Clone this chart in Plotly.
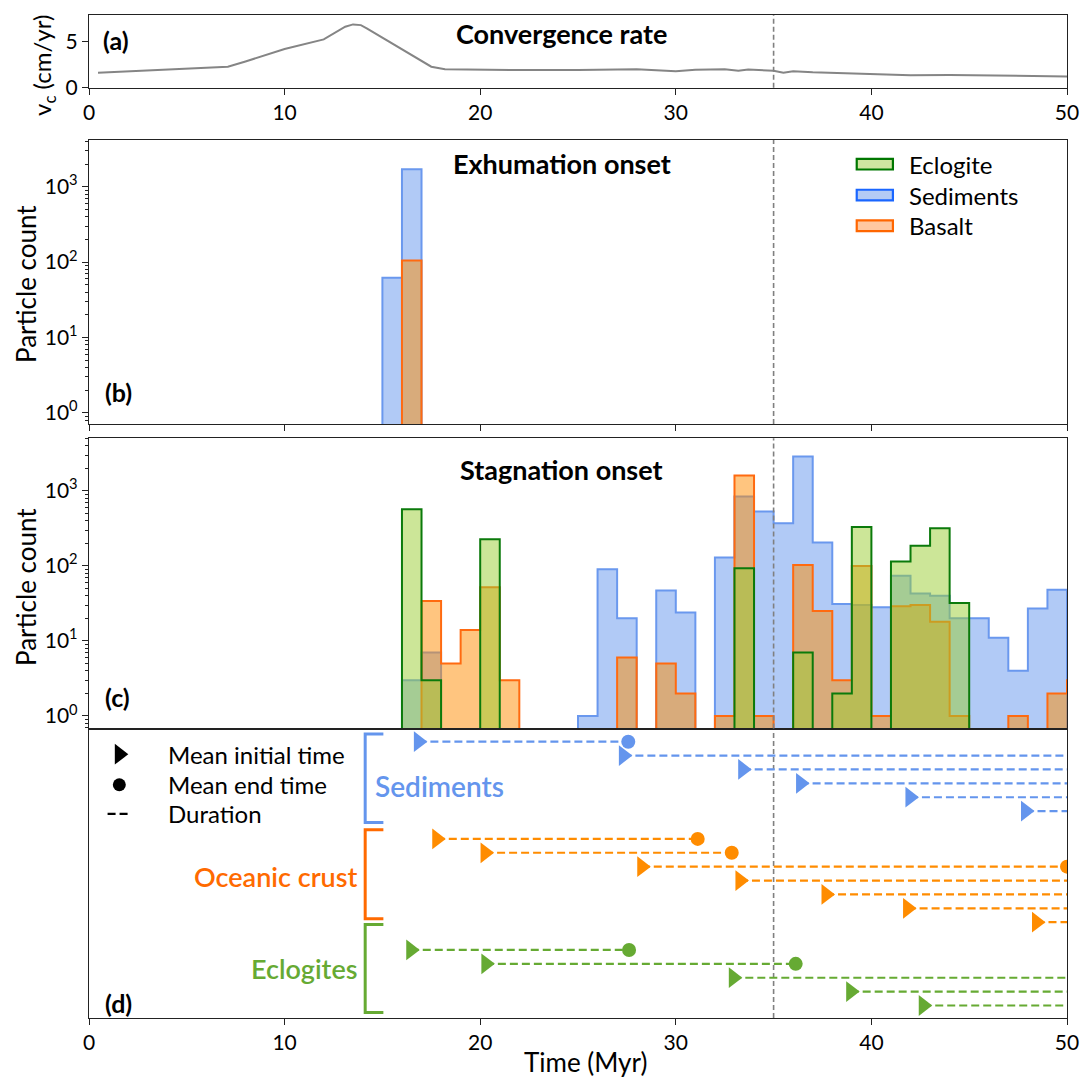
import plotly.graph_objects as go

FONT = "Lato"
X_MAX = 50
REF_TIME = 35

# ---------------- Panel (a): convergence rate ----------------
conv_time = [0.46, 2.0, 4.0, 6.0, 7.1, 8.0, 10.0, 12.0, 13.1, 13.5, 13.9, 14.2, 15.35, 16.4, 17.5,
             18.2, 20.0, 22.0, 25.0, 26.5, 28.0, 30.0, 31.0, 32.5, 33.2, 33.7, 34.5, 35.0, 35.5,
             36.0, 37.0, 38.0, 40.0, 42.0, 44.0, 46.0, 48.0, 50.0]
conv_rate = [1.63, 1.8, 1.98, 2.17, 2.28, 2.85, 4.2, 5.25, 6.63, 6.88, 6.8, 6.45, 5.0, 3.6, 2.28,
             2.0, 1.93, 1.92, 1.92, 2.0, 2.0, 1.8, 1.95, 2.0, 1.85, 1.97, 1.85, 1.85, 1.63,
             1.8, 1.67, 1.6, 1.49, 1.34, 1.38, 1.34, 1.33, 1.23]

# ---------------- Panels (b),(c): 1-Myr histogram bins (left edges) ----------------
bin_left = list(range(15, 51))
BIN_W = 1.0

exh_sediments = [62, 1700, 0, 0, 0, 0, 0, 0, 0, 0, 0, 0, 0, 0, 0, 0, 0, 0,
                 0, 0, 0, 0, 0, 0, 0, 0, 0, 0, 0, 0, 0, 0, 0, 0, 0, 0]
exh_basalt = [0, 105, 0, 0, 0, 0, 0, 0, 0, 0, 0, 0, 0, 0, 0, 0, 0, 0,
              0, 0, 0, 0, 0, 0, 0, 0, 0, 0, 0, 0, 0, 0, 0, 0, 0, 0]

stg_sediments = [0, 3, 7, 0, 0, 0, 0, 0, 0, 0, 1, 90, 20, 0, 47, 24, 0, 129,
                 840, 530, 370, 2860, 205, 31, 30, 28, 74, 43, 40, 20, 20, 11, 4, 27, 48, 0]
stg_basalt = [0, 0, 34, 5, 14, 52, 3, 0, 0, 0, 0, 0, 6, 0, 5, 2, 0, 1,
              1600, 1, 0, 103, 25, 3, 100, 1, 29, 30, 18, 1, 0, 0, 1, 0, 2, 3]
stg_eclogite = [0, 570, 3, 0, 0, 227, 0, 0, 0, 0, 0, 0, 0, 0, 0, 0, 0, 0,
                93, 0, 0, 7, 0, 2, 330, 0, 114, 185, 318, 32, 0, 0, 0, 0, 0, 0]

# ---------------- Panel (d): mean initial / end times ----------------
sed_start = [16.84, 27.32, 33.42, 36.38, 41.97, 47.88]
sed_end = [27.57, None, None, None, None, None]
oc_start = [17.78, 20.25, 28.26, 33.28, 37.68, 41.85, 48.44]
oc_end = [31.12, 32.86, 50.0, None, None, None, None]
ecl_start = [16.45, 20.29, 32.94, 38.94, 42.65]
ecl_end = [27.61, 36.13, None, None, None]

tick_x = [0, 10, 20, 30, 40, 50]
log_tickvals = [1, 10, 100, 1000]
log_ticktext = ["10<sup>0</sup>", "10<sup>1</sup>", "10<sup>2</sup>", "10<sup>3</sup>"]
minor_vals = [m * 10 ** k for k in range(-1, 4) for m in range(2, 10)]

# ---------------- styles ----------------
SED_FILL, SED_LINE = "rgba(100,149,237,0.5)", "#6a98ee"
BAS_FILL, BAS_LINE = "rgba(255,140,0,0.5)", "#ff6a10"
ECL_FILL, ECL_LINE = "rgba(154,205,50,0.5)", "#0b7a0b"
D_SED, D_OC, D_ECL = "#6495ed", "#ff8c00", "#66aa33"
OC_LABEL = "#ff6a00"
AX_COL = "#222222"

W, H = 1088, 1077
ML, MR, MT, MB = 89, 21, 15, 59
PW = W - ML - MR
PH = H - MT - MB


def dom(ptop, pbot):
    return [max(0.0, 1 - (pbot - MT) / PH), min(1.0, 1 - (ptop - MT) / PH)]


def px_x(p):
    return (p - ML) / PW


def px_y(p):
    return 1 - (p - MT) / PH


fig = go.Figure()

# (a)
fig.add_trace(go.Scatter(x=conv_time, y=conv_rate, mode="lines",
                         line=dict(color="#858585", width=2),
                         xaxis="x", yaxis="y", showlegend=False, hoverinfo="skip"))


def step_poly(lefts, counts, floor=1e-3):
    xs, ys = [lefts[0]], [floor]
    for l, c in zip(lefts, counts):
        v = c if c > 0 else floor
        xs += [l, l + BIN_W]
        ys += [v, v]
    xs.append(lefts[-1] + BIN_W)
    ys.append(floor)
    return xs, ys


def add_hist(counts, fill, line, xa, ya):
    if max(counts) <= 0:
        return
    xs, ys = step_poly(bin_left, counts)
    fig.add_trace(go.Scatter(x=xs, y=ys, mode="lines", fill="toself", fillcolor=fill,
                             line=dict(color=line, width=2), xaxis=xa, yaxis=ya,
                             showlegend=False, hoverinfo="skip"))


# (b)
add_hist(exh_sediments, SED_FILL, SED_LINE, "x2", "y2")
add_hist(exh_basalt, BAS_FILL, BAS_LINE, "x2", "y2")
# (c)
add_hist(stg_sediments, SED_FILL, SED_LINE, "x3", "y3")
add_hist(stg_basalt, BAS_FILL, BAS_LINE, "x3", "y3")
add_hist(stg_eclogite, ECL_FILL, ECL_LINE, "x3", "y3")

# (d)
groups = [(sed_start, sed_end, D_SED), (oc_start, oc_end, D_OC), (ecl_start, ecl_end, D_ECL)]
row = 0
for starts, ends, col in groups:
    for s, e in zip(starts, ends):
        xe = e if e is not None else X_MAX
        fig.add_trace(go.Scatter(x=[s, xe], y=[row, row], mode="lines",
                                 line=dict(color=col, width=2.2, dash="8px,4px"),
                                 xaxis="x4", yaxis="y4", showlegend=False, hoverinfo="skip"))
        if e is not None:
            fig.add_trace(go.Scatter(x=[e], y=[row], mode="markers",
                                     marker=dict(symbol="circle", size=14, color=col),
                                     xaxis="x4", yaxis="y4", showlegend=False, hoverinfo="skip"))
        fig.add_trace(go.Scatter(x=[s], y=[row], mode="markers",
                                 marker=dict(symbol="triangle-right", size=18, color=col),
                                 xaxis="x4", yaxis="y4", showlegend=False, hoverinfo="skip"))
        row += 1
    row += 1

# legend of (d)
fig.add_trace(go.Scatter(x=[1.55], y=[0.9], mode="markers",
                         marker=dict(symbol="triangle-right", size=18, color="black"),
                         xaxis="x4", yaxis="y4", showlegend=False, hoverinfo="skip"))
fig.add_trace(go.Scatter(x=[1.55], y=[3.1], mode="markers",
                         marker=dict(symbol="circle", size=13, color="black"),
                         xaxis="x4", yaxis="y4", showlegend=False, hoverinfo="skip"))
fig.add_trace(go.Scatter(x=[0.95, 2.15], y=[5.2, 5.2], mode="lines",
                         line=dict(color="black", width=2.2, dash="8px,4px"),
                         xaxis="x4", yaxis="y4", showlegend=False, hoverinfo="skip"))

ann = []
for txt, yy in [("Mean initial time", 0.9), ("Mean end time", 3.1), ("Duration", 5.2)]:
    ann.append(dict(text=txt, x=3.95, y=yy, xref="x4", yref="y4", xanchor="left",
                    yanchor="middle", showarrow=False, font=dict(size=24, color="black", family=FONT)))


def lab(text, xr, yr, x, y, size=27, xanchor="center", bold=True, color="black"):
    ann.append(dict(text=f"<b>{text}</b>" if bold else text, x=x, y=y, xref=xr, yref=yr,
                    xanchor=xanchor, yanchor="middle", showarrow=False,
                    font=dict(size=size, color=color, family=FONT)))


lab("Convergence rate", "x domain", "y domain", 0.483, 0.752)
lab("Exhumation onset", "x2 domain", "y2 domain", 0.484, 0.919)
lab("Stagnation onset", "x3 domain", "y3 domain", 0.483, 0.891)
lab("(a)", "x domain", "y domain", 0.0126, 0.656, size=25, xanchor="left")
lab("(b)", "x2 domain", "y2 domain", 0.0146, 0.113, size=25, xanchor="left")
lab("(c)", "x3 domain", "y3 domain", 0.0146, 0.109, size=25, xanchor="left")
lab("(d)", "x4 domain", "y4 domain", 0.0146, 0.053, size=25, xanchor="left")

# axis titles (placed as text to follow the reference positions)
title_font = dict(size=26, family=FONT, color="black")
ann.append(dict(text="v<sub>c</sub> (cm/yr)", x=px_x(44), y=px_y(66), xref="paper", yref="paper",
                xanchor="center", yanchor="middle", textangle=-90, showarrow=False,
                font=dict(size=24, family=FONT, color="black")))
for yc in (284, 587):
    ann.append(dict(text="Particle count", x=px_x(26), y=px_y(yc), xref="paper", yref="paper",
                    xanchor="center", yanchor="middle", textangle=-90, showarrow=False, font=title_font))
ann.append(dict(text="Time (Myr)", x=px_x(585), y=px_y(1062), xref="paper", yref="paper",
                xanchor="center", yanchor="middle", showarrow=False, font=title_font))

# group labels in (d)
ann.append(dict(text="Sediments", x=14.51, y=0.80, xref="x4", yref="y4 domain", xanchor="left",
                yanchor="middle", showarrow=False, font=dict(size=28, color=D_SED, family=FONT, weight=600)))
ann.append(dict(text="Oceanic crust", x=13.86, y=0.49, xref="x4", yref="y4 domain", xanchor="right",
                yanchor="middle", showarrow=False, font=dict(size=27, color=OC_LABEL, family=FONT, weight=600)))
ann.append(dict(text="Eclogites", x=13.86, y=0.172, xref="x4", yref="y4 domain", xanchor="right",
                yanchor="middle", showarrow=False, font=dict(size=27, color=D_ECL, family=FONT, weight=600)))

# legend of (b)
shapes = []
leg = [("Eclogite", "rgb(208,230,160)", "#007700", 0.915),
       ("Sediments", "rgb(179,203,245)", "#1a66ff", 0.806),
       ("Basalt", "rgb(255,200,160)", "#ff6600", 0.698)]
for name, fc, lc, yc in leg:
    shapes.append(dict(type="rect", xref="x2 domain", yref="y2 domain", x0=0.785, x1=0.822,
                       y0=yc - 0.0188, y1=yc + 0.0188, fillcolor=fc, line=dict(color=lc, width=2.2)))
    ann.append(dict(text=name, x=0.836, y=yc, xref="x2 domain", yref="y2 domain", xanchor="left",
                    yanchor="middle", showarrow=False, font=dict(size=24, color="black", family=FONT)))

# brackets in (d)
for col, y_top, y_bot in [(D_SED, 0.981, 0.675), (OC_LABEL, 0.650, 0.343), (D_ECL, 0.323, 0.019)]:
    shapes.append(dict(type="path", xref="x4", yref="y4 domain",
                       path=f"M 15.05,{y_top} L 14.12,{y_top} L 14.12,{y_bot} L 15.05,{y_bot}",
                       line=dict(color=col, width=3)))

# reference time dashed line in each panel
for xa, ya, layer in [("x", "y", "above"), ("x2", "y2", "above"), ("x3", "y3", "above"), ("x4", "y4", "below")]:
    shapes.append(dict(type="line", xref=xa, yref=f"{ya} domain", x0=REF_TIME, x1=REF_TIME, y0=0, y1=1,
                       line=dict(color="#808080", width=1.6, dash="5px,3px"), layer=layer))

tickfont = dict(size=21, color="black", family=FONT)
base_x = dict(range=[0, X_MAX], showline=True, mirror=True, linecolor=AX_COL, linewidth=1.3,
              ticks="outside", ticklen=6, tickwidth=1.2, tickcolor=AX_COL, tickvals=tick_x,
              showgrid=False, zeroline=False, tickfont=tickfont)
base_y = dict(showline=True, mirror=True, linecolor=AX_COL, linewidth=1.3, ticks="outside",
              ticklen=6, tickwidth=1.2, tickcolor=AX_COL, showgrid=False, zeroline=False,
              tickfont=tickfont)
log_y = dict(base_y, type="log", tickvals=log_tickvals, ticktext=log_ticktext,
             minor=dict(tickvals=minor_vals, ticks="outside", ticklen=3, tickcolor=AX_COL, showgrid=False))

fig.update_layout(
    width=W, height=H, paper_bgcolor="white", plot_bgcolor="white",
    margin=dict(l=ML, r=MR, t=MT, b=MB, autoexpand=False), showlegend=False,
    font=dict(family=FONT, color="black"),
    xaxis=dict(base_x, domain=[0, 1], anchor="y", showticklabels=True),
    yaxis=dict(base_y, domain=dom(15, 87.7), anchor="x", range=[0, 7.9], tickvals=[0, 5]),
    xaxis2=dict(base_x, domain=[0, 1], anchor="y2", showticklabels=False, matches="x"),
    yaxis2=dict(log_y, domain=dom(140, 424), anchor="x2", range=[-0.15, 3.62]),
    xaxis3=dict(base_x, domain=[0, 1], anchor="y3", showticklabels=False, ticks="", matches="x"),
    yaxis3=dict(log_y, domain=dom(438.3, 728.5), anchor="x3", range=[-0.167, 3.70]),
    xaxis4=dict(base_x, domain=[0, 1], anchor="y4", showticklabels=True, matches="x"),
    yaxis4=dict(base_y, domain=dom(728.5, 1018.3), anchor="x4", range=[19.9, -0.95],
                ticks="", showticklabels=False),
    annotations=ann, shapes=shapes,
)

fig.write_html("out.html", config={"displayModeBar": False},
               post_script="document.body.style.margin='0px';")
